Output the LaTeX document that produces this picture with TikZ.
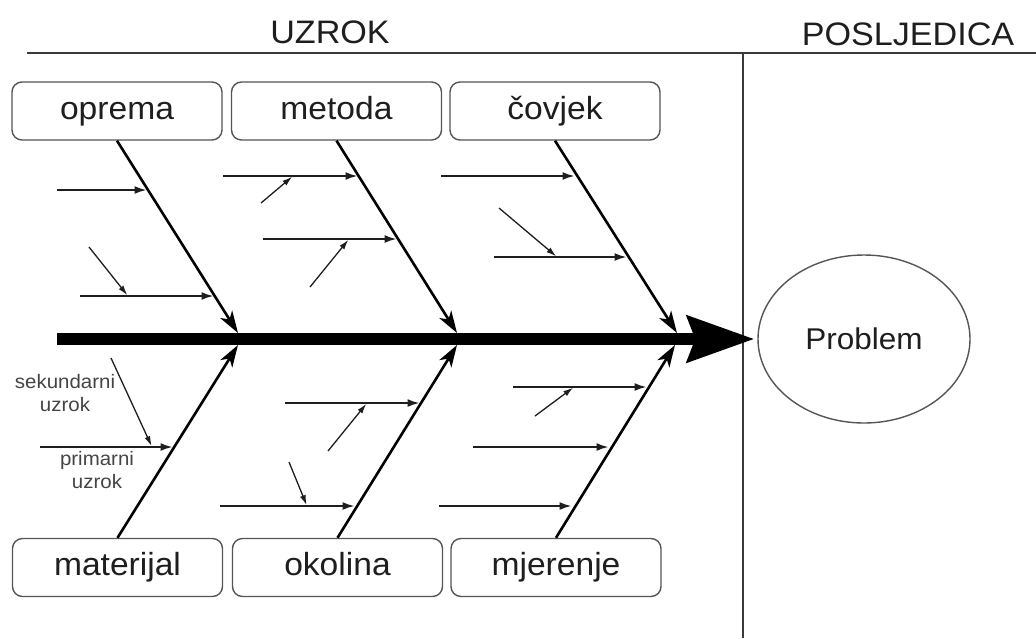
\documentclass[tikz,border=0pt]{standalone}
\usepackage{fontspec}
\setmainfont{Liberation Sans}[FakeStretch=1.05]
\usetikzlibrary{arrows.meta,shapes.geometric}

\definecolor{linegray}{HTML}{3A3A3A}
\definecolor{boxgray}{HTML}{555555}
\definecolor{textgray}{HTML}{1E1E1E}
\definecolor{notegray}{HTML}{444444}

\tikzset{
	causebox/.style={draw=boxgray, line width=1.4pt, rounded corners=10pt, minimum width=210pt, minimum height=58pt, inner sep=0pt, text=textgray, font=\fontsize{32}{38}\selectfont, text height=23pt, text depth=7pt},
	title/.style={anchor=base, text=textgray, font=\fontsize{32.5}{38}\selectfont},
	note/.style={align=center, text=notegray, font=\fontsize{19.5}{23}\selectfont},
	spine/.style={line width=11.5pt, -{Stealth[length=67pt,width=46pt,inset=8pt]}, shorten >=3pt},
	bone/.style={line width=2.6pt, -{Stealth[length=22pt,width=14pt,inset=6pt]}},
	cause/.style={line width=1.8pt, draw=textgray, -{Latex[length=12pt,width=8pt]}, shorten >=1.5pt},
	subcause/.style={line width=1.3pt, draw=textgray, -{Latex[length=10pt,width=6pt]}, shorten >=1pt},
}

\begin{document}
\begin{tikzpicture}[x=1pt, y=-1pt]
	\useasboundingbox (0,0) rectangle (1036,638);

	% headings and frame
	\node[title] (uzrok) at (330,43) {UZROK};
	\node[title] (posljedica) at (908,45) {POSLJEDICA};
	\coordinate (topL) at (27,53);
	\coordinate (topR) at (1036,53);
	\coordinate (midT) at (743,53);
	\coordinate (midB) at (743,638);
	\draw[line width=1.5pt, linegray] (topL) -- (topR);
	\draw[line width=1.5pt, linegray] (midT) -- (midB);

	% cause boxes
	\node[causebox] (oprema) at (117,111) {oprema};
	\node[causebox] (metoda) at (336.5,111) {metoda};
	\node[causebox] (covjek) at (555,111) {čovjek};
	\node[causebox] (materijal) at (117.5,567.5) {materijal};
	\node[causebox] (okolina) at (337.5,567.5) {okolina};
	\node[causebox] (mjerenje) at (556,567.5) {mjerenje};

	% effect
	\node[ellipse, draw=boxgray, line width=1.4pt, minimum width=212pt, minimum height=168pt, inner sep=0pt, text=textgray, font=\fontsize{30}{36}\selectfont] (problem) at (864,339) {Problem};

	% spine
	\coordinate (s0) at (57,339);
	\draw[spine] (s0) -- (problem.west);

	% main bones
	\coordinate (j1) at (238,333);
	\coordinate (j2) at (457,333);
	\coordinate (j3) at (677,333);
	\coordinate (k1) at (238,345);
	\coordinate (k2) at (457,345);
	\coordinate (k3) at (675,345);
	\draw[bone] (oprema.south) -- (j1);
	\draw[bone] (metoda.south) -- (j2);
	\draw[bone] (covjek.south) -- (j3);
	\draw[bone] (materijal.north) -- (k1);
	\draw[bone] (okolina.north) -- (k2);
	\draw[bone] (mjerenje.north) -- (k3);

	% primary causes, top
	\coordinate (a1) at (57,190);  \coordinate (b1) at (148,190);
	\coordinate (a2) at (80,296);  \coordinate (b2) at (215,296);
	\coordinate (a3) at (223,176); \coordinate (b3) at (359,176);
	\coordinate (a4) at (263,239); \coordinate (b4) at (398,239);
	\coordinate (a5) at (441,176); \coordinate (b5) at (576,176);
	\coordinate (a6) at (494,257); \coordinate (b6) at (628,257);
	% primary causes, bottom
	\coordinate (a7) at (40,447);   \coordinate (b7) at (174,447);
	\coordinate (a8) at (285,403);  \coordinate (b8) at (421,403);
	\coordinate (a9) at (220,506);  \coordinate (b9) at (356,506);
	\coordinate (a10) at (513,387); \coordinate (b10) at (648,387);
	\coordinate (a11) at (473,447); \coordinate (b11) at (610,447);
	\coordinate (a12) at (439,506); \coordinate (b12) at (573,506);

	\draw[cause] (a1) -- (b1);
	\draw[cause] (a2) -- (b2);
	\draw[cause] (a3) -- (b3);
	\draw[cause] (a4) -- (b4);
	\draw[cause] (a5) -- (b5);
	\draw[cause] (a6) -- (b6);
	\draw[cause] (a7) -- (b7);
	\draw[cause] (a8) -- (b8);
	\draw[cause] (a9) -- (b9);
	\draw[cause] (a10) -- (b10);
	\draw[cause] (a11) -- (b11);
	\draw[cause] (a12) -- (b12);

	% secondary causes
	\coordinate (c1) at (89,247);  \coordinate (d1) at (128,296);
	\coordinate (c2) at (261,203); \coordinate (d2) at (293,176);
	\coordinate (c3) at (310,287); \coordinate (d3) at (349,239);
	\coordinate (c4) at (499,208); \coordinate (d4) at (557,257);
	\coordinate (c5) at (111,358); \coordinate (d5) at (152,447);
	\coordinate (c6) at (328,451); \coordinate (d6) at (367,403);
	\coordinate (c7) at (289,462); \coordinate (d7) at (307,506);
	\coordinate (c8) at (535,416); \coordinate (d8) at (574,387);

	\draw[subcause] (c1) -- (d1);
	\draw[subcause] (c2) -- (d2);
	\draw[subcause] (c3) -- (d3);
	\draw[subcause] (c4) -- (d4);
	\draw[subcause] (c5) -- (d5);
	\draw[subcause] (c6) -- (d6);
	\draw[subcause] (c7) -- (d7);
	\draw[subcause] (c8) -- (d8);

	% legend labels
	\node[note] (sekundarni) at (65,393) {sekundarni\\uzrok};
	\node[note] (primarni) at (97,470) {primarni\\uzrok};
\end{tikzpicture}
\end{document}
